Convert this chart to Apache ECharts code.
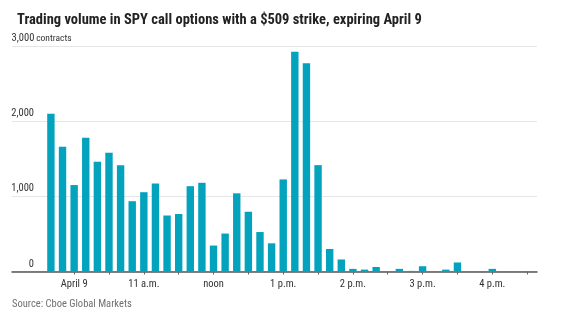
<!DOCTYPE html>
<html>
<head>
<meta charset="utf-8">
<script src="https://cdn.jsdelivr.net/npm/echarts@6/dist/echarts.min.js"></script>
<style>html,body{margin:0;padding:0;background:#fff}#c{width:577px;height:324px}</style>
</head>
<body>
<div id="c"></div>
<script>
// Times in minutes since midnight (10-minute buckets)
const times = [580,590,600,610,620,630,640,650,660,670,680,690,700,710,720,730,740,750,760,770,
               780,790,800,810,820,830,840,850,860,870,880,890,900,910,920,930,940,950,960,970];
const volumes = [2100,1660,1150,1780,1460,1580,1415,935,1055,1170,745,765,1135,1180,345,505,1040,795,525,375,
                 1225,2925,2770,1415,300,160,35,25,60,0,35,8,70,0,25,120,0,6,35,6];
const labelTimes = [600,660,720,780,840,900,960];
const tickLabels = ['April 9','11 a.m.','noon','1 p.m.','2 p.m.','3 p.m.','4 p.m.'];
const tickTimes = [600,630,660,690,720,750,780,810,840,870,900,930,960,990];
const yTicks = [0,1000,2000,3000];

const FONT = "'Liberation Sans Narrow','Roboto Condensed','Arial Narrow','Liberation Sans',sans-serif";
const chart = echarts.init(document.getElementById('c'), null, {renderer:'canvas'});
chart.setOption({
  animation:false,
  grid:{left:12, right:40, top:46, bottom:52.5, containLabel:false},
  title:{text:'Trading volume in SPY call options with a $509 strike, expiring April 9',
    left:12, top:8, textStyle:{fontFamily:FONT, fontSize:14.5, fontWeight:'bold', color:'#222'}},
  graphic:[{type:'text', left:12, top:299, style:{text:'Source: Cboe Global Markets', fontFamily:FONT, fontSize:10.5, fill:'#707070'}}],
  xAxis:{type:'value', min:546.5, max:998.5,
    axisLine:{lineStyle:{color:'#555', width:1.5}},
    axisTick:{show:true, length:3, lineStyle:{color:'#666'}, customValues:tickTimes},
    axisLabel:{customValues:labelTimes, margin:7, color:'#333', fontFamily:FONT, fontSize:10.5,
      formatter:function(v){const i=labelTimes.indexOf(v);return i>=0?tickLabels[i]:'';}},
    splitLine:{show:false}},
  yAxis:{type:'value', min:0, max:3000, interval:1000,
    axisLine:{show:false}, axisTick:{show:false},
    splitLine:{lineStyle:{color:'#e6e6e6', width:1}},
    axisLabel:{inside:true, margin:0, align:'left', verticalAlign:'bottom', padding:[0,0,2,0],
      color:'#333', fontFamily:FONT, fontSize:10,
      formatter:function(v){const s=v.toLocaleString('en-US');return v===3000?'{n|'+s+'}{c| contracts}':'{n|'+s+'}';},
      rich:{n:{width:22, align:'right', fontFamily:FONT, fontSize:10.5, color:'#333'},
            c:{fontFamily:FONT, fontSize:9.5, color:'#333'}}}},
  series:[{type:'bar', barWidth:7.4, itemStyle:{color:'#03a3bd'},
    data:times.map((t,i)=>[t,volumes[i]])}]
});
</script>
</body>
</html>
